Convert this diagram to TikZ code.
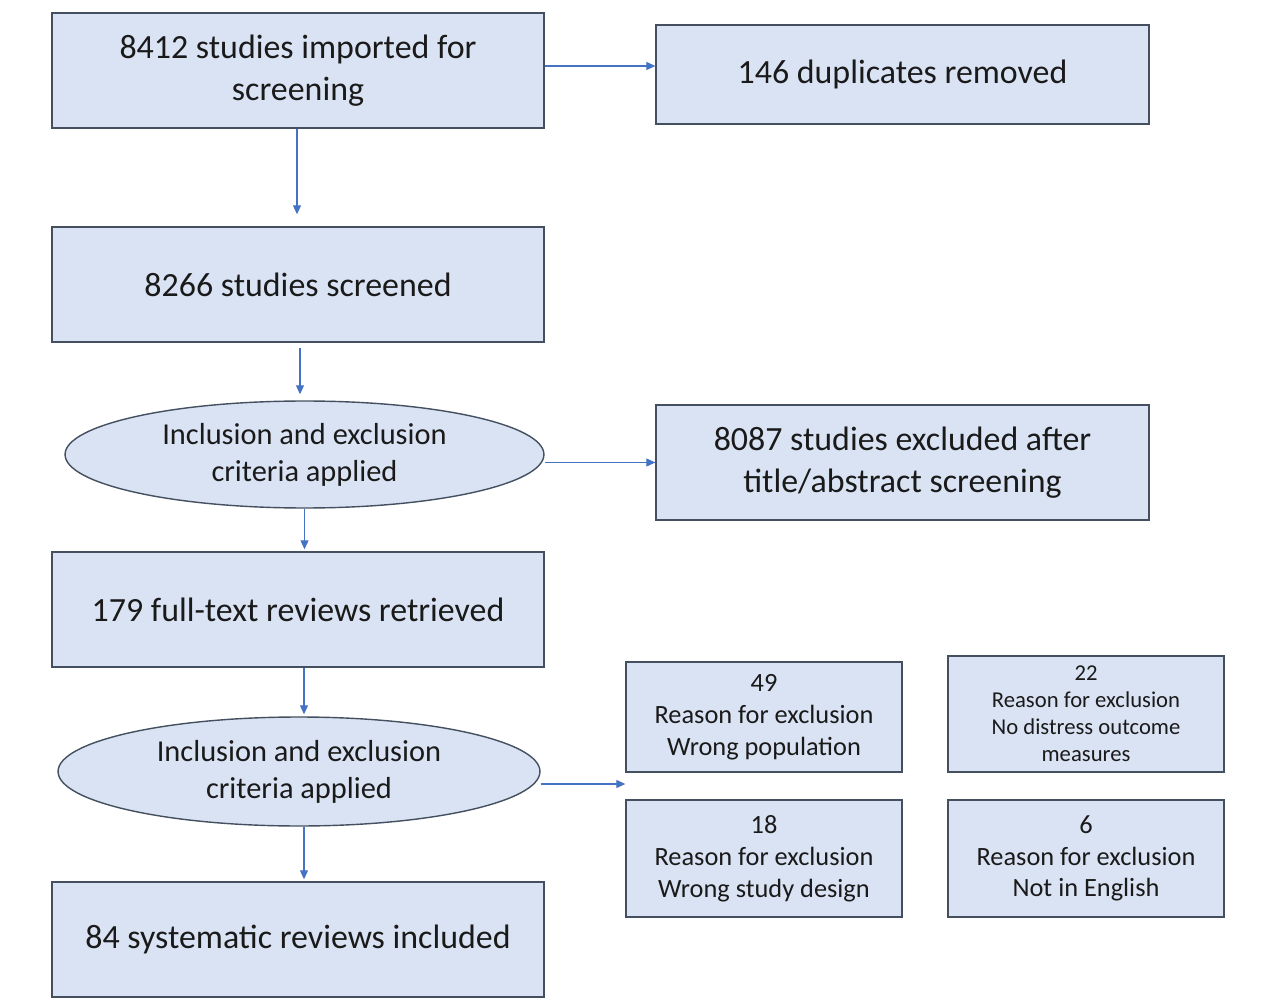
\documentclass[tikz,border=0pt]{standalone}
\usepackage{fontspec}
\setmainfont{Carlito}
\usetikzlibrary{shapes.geometric,arrows.meta,calc}
\definecolor{boxfill}{HTML}{DAE3F3}
\definecolor{boxline}{HTML}{44505F}
\definecolor{arrowblue}{HTML}{4472C4}
\definecolor{txt}{HTML}{1A1A1A}
\tikzset{
  base/.style={draw=boxline, fill=boxfill, line width=0.8pt, text=txt, align=center, inner sep=0pt},
  mainbox/.style={base, rectangle, font=\fontsize{19.3}{23.8}\selectfont},
  crit/.style={base, ellipse, font=\fontsize{17.3}{21}\selectfont},
  reasonbox/.style={base, rectangle, minimum width=5.52cm, font=\fontsize{15}{18.1}\selectfont},
  smallreason/.style={base, rectangle, minimum width=5.52cm, font=\fontsize{12.9}{15.3}\selectfont},
  arr/.style={draw=arrowblue, line width=0.6pt, -{Triangle[length=0.18cm,width=0.16cm]}, arrowblue}
}
\begin{document}
\begin{tikzpicture}[x=0.02cm, y=-0.02cm]
\useasboundingbox (0,0) rectangle (1280,999);
\fill[white] (0,0) rectangle (1280,999);

\node[mainbox, minimum width=9.84cm, minimum height=2.3cm] (A) at (298,70.5) {8412 studies imported for\\screening};
\node[mainbox, minimum width=9.86cm, minimum height=1.98cm] (B) at (902.5,74.5) {146 duplicates removed};
\node[mainbox, minimum width=9.84cm, minimum height=2.3cm] (C) at (298,284.5) {8266 studies screened};
\node[crit, minimum width=9.58cm, minimum height=2.14cm] (E1) at (304.5,454.5) {Inclusion and exclusion\\criteria applied};
\node[mainbox, minimum width=9.86cm, minimum height=2.3cm] (D) at (902.5,462.5) {8087 studies excluded after\\title/abstract screening};
\node[mainbox, minimum width=9.84cm, minimum height=2.3cm] (F) at (298,609.5) {179 full-text reviews retrieved};
\node[crit, minimum width=9.64cm, minimum height=2.18cm] (E2) at (299,771.5) {Inclusion and exclusion\\criteria applied};
\node[mainbox, minimum width=9.84cm, minimum height=2.3cm] (G) at (298,939.5) {84 systematic reviews included};

\node[reasonbox, minimum height=2.2cm] (R1) at (764,717) {49\\Reason for exclusion\\Wrong population};
\node[smallreason, minimum height=2.32cm] (R2) at (1086,714) {22\\Reason for exclusion\\No distress outcome\\measures};
\node[reasonbox, minimum height=2.34cm] (R3) at (764,858.5) {18\\Reason for exclusion\\Wrong study design};
\node[reasonbox, minimum height=2.34cm] (R4) at (1086,858.5) {6\\Reason for exclusion\\Not in English};

\draw[arr] ([yshift=0.09cm]A.east) -- ([yshift=0.09cm]A.east -| B.west);
\draw[arr, shorten >=0.24cm] ([xshift=-0.02cm]A.south) -- ([xshift=-0.02cm]A.south |- C.north);
\draw[arr, shorten <=0.1cm, shorten >=0.12cm] ([xshift=0.04cm]C.south) -- ([xshift=0.04cm]C.south |- E1.north);
\draw[arr] (D.west -| E1.east) -- (D.west);
\draw[arr, shorten >=0.04cm] (E1.south) -- (E1.south |- F.north);
\draw[arr, shorten >=0.04cm] ([xshift=0.12cm]F.south) -- ([xshift=0.12cm]F.south |- E2.north);
\draw[arr] ([yshift=-0.25cm]E2.east) -- ([yshift=-0.25cm]E2.east -| R1.west);
\draw[arr, shorten >=0.04cm] ([xshift=0.1cm]E2.south) -- ([xshift=0.1cm]E2.south |- G.north);
\end{tikzpicture}
\end{document}
